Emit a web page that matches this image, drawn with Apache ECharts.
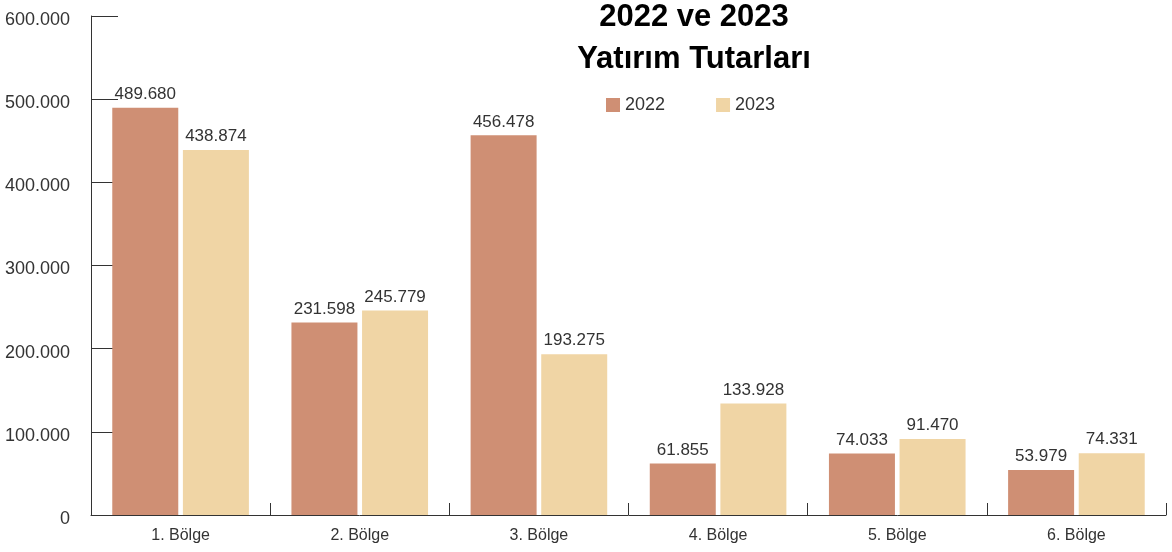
<!DOCTYPE html>
<html>
<head>
<meta charset="utf-8">
<script src="https://cdn.jsdelivr.net/npm/echarts@6/dist/echarts.min.js"></script>
<style>
   html, body { margin: 0; padding: 0; background: #fff; }
   #chart { width: 1172px; height: 552px; }
</style>
</head>
<body>
<div id="chart"></div>
<script>
const categories = ['1. Bölge', '2. Bölge', '3. Bölge', '4. Bölge', '5. Bölge', '6. Bölge'];
const values2022 = [489680, 231598, 456478, 61855, 74033, 53979];
const values2023 = [438874, 245779, 193275, 133928, 91470, 74331];

// turkish style thousands: 489.680
function fmt(v) {
   return String(Math.round(v)).replace(/\B(?=(\d{3})+(?!\d))/g, '.');
}

const font = 'Liberation Sans, Arial, sans-serif';

echarts.init(document.getElementById('chart')).setOption({
   animation: false,
   textStyle: { fontFamily: font },
   title: {
      text: '2022 ve 2023\nYatırım Tutarları',
      left: 689,
      textAlign: 'center',
      top: -9,
      textStyle: {
         fontFamily: font,
         fontSize: 31,
         fontWeight: 'bold',
         color: '#000',
         lineHeight: 42
      }
   },
   legend: {
      left: 601,
      top: 91,
      itemWidth: 14,
      itemHeight: 14,
      itemGap: 51,
      icon: 'rect',
      textStyle: { fontFamily: font, fontSize: 18, color: '#333' },
      data: ['2022', '2023']
   },
   grid: {
      left: 91,
      right: 6,
      top: 16,
      bottom: 37,
      containLabel: false
   },
   xAxis: {
      type: 'category',
      data: categories,
      axisLine: { lineStyle: { color: '#333', width: 1 } },
      axisTick: {
         show: true,
         inside: true,
         length: 12,
         lineStyle: { color: '#333' }
      },
      axisLabel: { fontFamily: font, fontSize: 16, color: '#333', margin: 13 }
   },
   yAxis: {
      type: 'value',
      min: 0,
      max: 600000,
      interval: 100000,
      splitLine: { show: false },
      axisLine: { show: true, lineStyle: { color: '#333', width: 1 } },
      axisTick: {
         show: true,
         inside: true,
         length: 27,
         lineStyle: { color: '#333' }
      },
      axisLabel: {
         fontFamily: font,
         fontSize: 18,
         color: '#333',
         margin: 21,
         verticalAlign: 'top',
         padding: [-5, 0, 0, 0],
         formatter: fmt
      }
   },
   series: [
      {
         name: '2022',
         type: 'bar',
         data: values2022,
         barWidth: 66,
         barGap: '7%',
         itemStyle: { color: '#CF8F74' },
         label: {
            show: true,
            position: 'top',
            distance: 5,
            fontFamily: font,
            fontSize: 17,
            color: '#333',
            formatter: p => fmt(p.value)
         }
      },
      {
         name: '2023',
         type: 'bar',
         data: values2023,
         barWidth: 66,
         itemStyle: { color: '#F0D5A5' },
         label: {
            show: true,
            position: 'top',
            distance: 5,
            fontFamily: font,
            fontSize: 17,
            color: '#333',
            formatter: p => fmt(p.value)
         }
      }
   ]
});
</script>
</body>
</html>
